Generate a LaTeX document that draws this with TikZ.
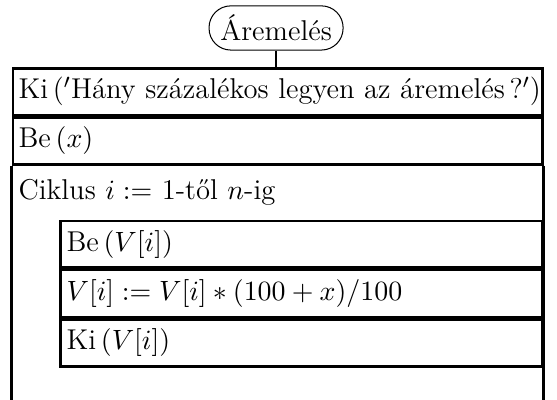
\documentclass[tikz,border=0pt]{standalone}
\usepackage{fontspec}
\usepackage{amsmath}
\usepackage{tikz}
\usetikzlibrary{positioning}

\tikzset{
  row/.style={draw, line width=1pt, anchor=north west, minimum height=0.645cm,
    inner xsep=0.08cm, inner ysep=0pt, text width=7.147cm},
  subrow/.style={row, text width=6.485cm},
  terminal/.style={draw, rounded corners=0.3cm, minimum width=1.85cm,
    minimum height=0.61cm, inner sep=2pt}
}

\begin{document}
\begin{tikzpicture}[font=\fontsize{11.25}{13.5}\selectfont]

\useasboundingbox (0,0) rectangle (7.687,-5.52);

%------------------------------------------------
% Start
%------------------------------------------------

\node[terminal] (start) at (3.81,-0.386) {Áremelés};

%------------------------------------------------
% Main rows
%------------------------------------------------

\node[row] (ki) at (0.159,-0.925) {\mbox{Ki\,($'$Hány százalékos legyen az áremelés\,?$'$)}};
\node[row] (be) at (ki.south west) {Be\,$(x)$};
\node[row, draw=none, minimum height=0.711cm] (ciklus) at (be.south west) {Ciklus $i:=$ 1-től $n$-ig};

\draw[line width=1pt] (start.south) -- (start.south |- ki.north);

%------------------------------------------------
% Loop frame
%------------------------------------------------

\coordinate (bottom) at (0,-5.52);
\draw[line width=1pt] (ciklus.north west) -- (ciklus.north west |- bottom);
\draw[line width=1pt] (ciklus.north east) -- (ciklus.north east |- bottom);

%------------------------------------------------
% Loop body
%------------------------------------------------

\node[subrow] (bev) at ([xshift=0.662cm]ciklus.south west) {Be\,$(V[i])$};
\node[subrow] (szamol) at (bev.south west) {$V[i] := V[i] * (100+x)/100$};
\node[subrow] (kiv) at (szamol.south west) {Ki\,$(V[i])$};

\end{tikzpicture}
\end{document}
